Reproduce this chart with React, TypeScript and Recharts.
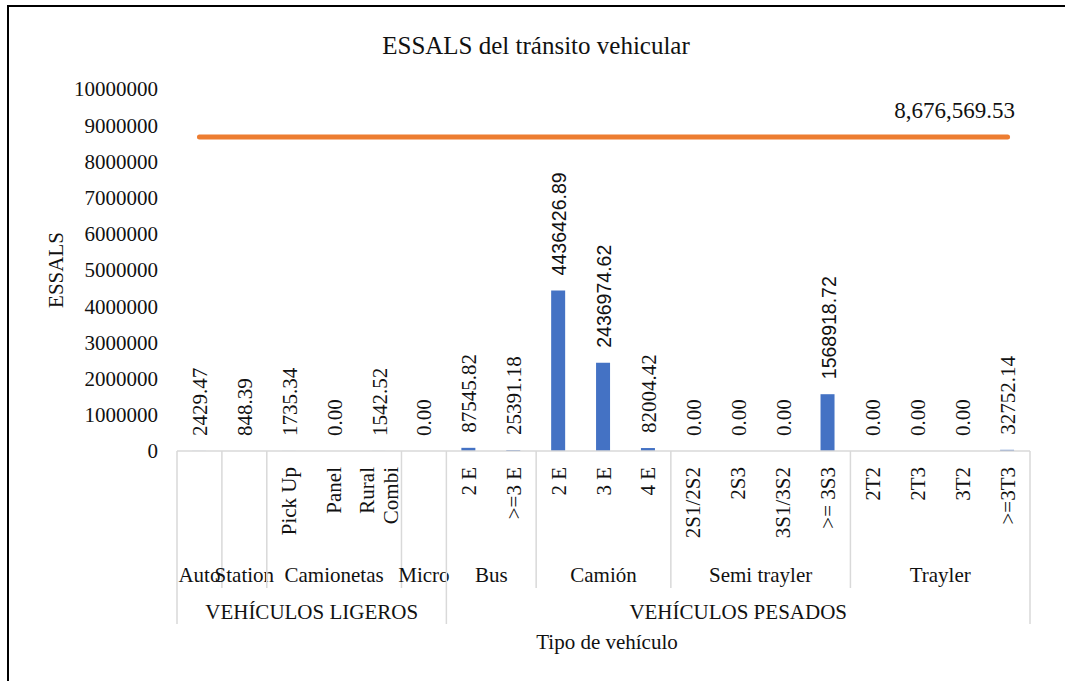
import React from 'react'
import { ComposedChart, Bar, Line, XAxis, YAxis, LabelList } from 'recharts'

// level 1 (rotated) labels, level 2 groups, level 3 classes
const subLabels = ['', '', 'Pick Up', 'Panel', 'Rural\nCombi', '', '2 E', '>=3 E', '2 E', '3 E', '4 E', '2S1/2S2', '2S3', '3S1/3S2', '>= 3S3', '2T2', '2T3', '3T2', '>=3T3']
const groupNames = ['Auto', 'Station', 'Camionetas', 'Micro', 'Bus', 'Camión', 'Semi trayler', 'Trayler']
const groupSizes = [1, 1, 3, 1, 2, 3, 4, 4]
const classNames = ['VEHÍCULOS LIGEROS', 'VEHÍCULOS PESADOS']
const classSizes = [6, 13]

const essals = [2429.47, 848.39, 1735.34, 0, 1542.52, 0, 87545.82, 25391.18, 4436426.89, 2436974.62, 82004.42, 0, 0, 0, 1568918.72, 0, 0, 0, 32752.14]
const totalEssals = [
  8676569.53, 8676569.53, 8676569.53, 8676569.53, 8676569.53, 8676569.53, 8676569.53,
  8676569.53, 8676569.53, 8676569.53, 8676569.53, 8676569.53, 8676569.53, 8676569.53,
  8676569.53, 8676569.53, 8676569.53, 8676569.53, 8676569.53,
]
const yTicks = [0, 1000000, 2000000, 3000000, 4000000, 5000000, 6000000, 7000000, 8000000, 9000000, 10000000]

const FONT = "'Liberation Serif', 'Times New Roman', serif"
const SANS = "'Liberation Sans', Arial, sans-serif"
// these labels were set in a sans face in the original
const sansLabels = [8, 9, 14]
const INK = '#111'
const GRID = '#D9D9D9'
const PLOT_L = 177
const PLOT_R = 1030
const AXIS_Y = 451
const BAND = (PLOT_R - PLOT_L) / subLabels.length

const data = subLabels.map((s, i) => ({ key: `c${i}`, essals: essals[i], total: totalEssals[i] }))

const startsOf = (sizes: number[]) => {
  let s = 0
  return sizes.map((n) => {
    const v = s
    s += n
    return v
  })
}
const groupStarts = startsOf(groupSizes)
const classStarts = startsOf(classSizes)

function CategoryTick(props: any) {
  const i: number = props.index ?? props.payload?.index
  const cx: number = props.payload?.coordinate ?? props.x
  const left = cx - BAND / 2
  const lines = subLabels[i].split('\n')
  const out: React.ReactNode[] = []

  lines.forEach((ln, j) => {
    const lx = cx + (j - (lines.length - 1) / 2) * 24
    const ly = AXIS_Y + 16
    out.push(
      <text key={`s${j}`} x={lx} y={ly} transform={`rotate(-90 ${lx} ${ly})`} textAnchor="end"
        dominantBaseline="central" fontSize={21} fontFamily={FONT} fill={INK}>{ln}</text>
    )
  })

  const g = groupStarts.indexOf(i)
  const c = classStarts.indexOf(i)
  if (g >= 0) {
    out.push(<line key="gl" x1={left} x2={left} y1={AXIS_Y} y2={c >= 0 ? 624 : 588} stroke={GRID} strokeWidth={1.5} />)
    out.push(
      <text key="gt" x={left + (groupSizes[g] * BAND) / 2} y={575} textAnchor="middle" dominantBaseline="central"
        fontSize={21} fontFamily={FONT} fill={INK}>{groupNames[g]}</text>
    )
  }
  if (c >= 0) {
    out.push(
      <text key="ct" x={left + (classSizes[c] * BAND) / 2} y={612} textAnchor="middle" dominantBaseline="central"
        fontSize={21} fontFamily={FONT} fill={INK}>{classNames[c]}</text>
    )
  }
  if (i === subLabels.length - 1) {
    out.push(<line key="end" x1={cx + BAND / 2} x2={cx + BAND / 2} y1={AXIS_Y} y2={624} stroke={GRID} strokeWidth={1.5} />)
  }
  return <g>{out}</g>
}

function BarValueLabel(props: any) {
  const { x, y, width, height, value, index } = props
  const cx = Number(x) + Number(width) / 2 + 1
  // zero bars: anchor on the baseline
  const top = Math.min(Number(y), Number(y) + Number(height || 0))
  const ty = top - 15
  const sans = sansLabels.includes(index)
  return (
    <text x={cx} y={ty} transform={`rotate(-90 ${cx} ${ty})`} textAnchor="start" dominantBaseline="central"
      fontSize={sans ? 19.5 : 21} fontFamily={sans ? SANS : FONT} fill={INK}>{Number(value).toFixed(2)}</text>
  )
}

function TotalLabel(props: any) {
  const { x, y, index, value } = props
  if (index !== totalEssals.length - 1) return null
  return (
    <text x={Number(x) - 53} y={Number(y) - 26} textAnchor="middle" dominantBaseline="central"
      fontSize={23} fontFamily={FONT} fill={INK}>
      {Number(value).toLocaleString('en-US', { minimumFractionDigits: 2, maximumFractionDigits: 2 })}
    </text>
  )
}

const centered = (left: number, top: number, size: number, rotate = 0): React.CSSProperties => ({
  position: 'absolute',
  left,
  top,
  transform: `translate(-50%, -50%) rotate(${rotate}deg)`,
  whiteSpace: 'nowrap',
  fontFamily: FONT,
  fontSize: size,
  color: INK,
  lineHeight: 1,
})

export default function App() {
  return (
    <div style={{ position: 'absolute', left: 0, top: 0, width: 1065, height: 681, background: '#fff', overflow: 'hidden' }}>
      <div style={{ position: 'absolute', left: 7, top: 5, width: 1058, height: 676, boxSizing: 'border-box', borderTop: '2px solid #000', borderLeft: '2px solid #000' }} />
      <div style={centered(536, 45, 25)}>ESSALS del tránsito vehicular</div>
      <div style={centered(56, 270, 21, -90)}>ESSALS</div>
      <div style={centered(607, 642, 21)}>Tipo de vehículo</div>
      <div style={{ position: 'absolute', left: 0, top: 0 }}>
        <ComposedChart width={1065} height={681} data={data} margin={{ top: 89, right: 35, bottom: 0, left: 0 }}>
          <XAxis dataKey="key" interval={0} height={230} tickLine={false}
            axisLine={{ stroke: GRID, strokeWidth: 1.5 }} tick={(p: any) => <CategoryTick {...p} />} />
          <YAxis width={177} domain={[0, 10000000]} ticks={yTicks} interval={0} tickLine={false} axisLine={false}
            tickSize={0} tickMargin={19} tick={{ fontSize: 21, fill: INK, fontFamily: FONT }} />
          <Bar dataKey="essals" fill="#4472C4" barSize={14} minPointSize={0.01} isAnimationActive={false}>
            <LabelList dataKey="essals" content={BarValueLabel} />
          </Bar>
          <Line dataKey="total" stroke="#ED7D31" strokeWidth={5} strokeLinecap="round" dot={false} isAnimationActive={false}>
            <LabelList dataKey="total" content={TotalLabel} />
          </Line>
        </ComposedChart>
      </div>
    </div>
  )
}
